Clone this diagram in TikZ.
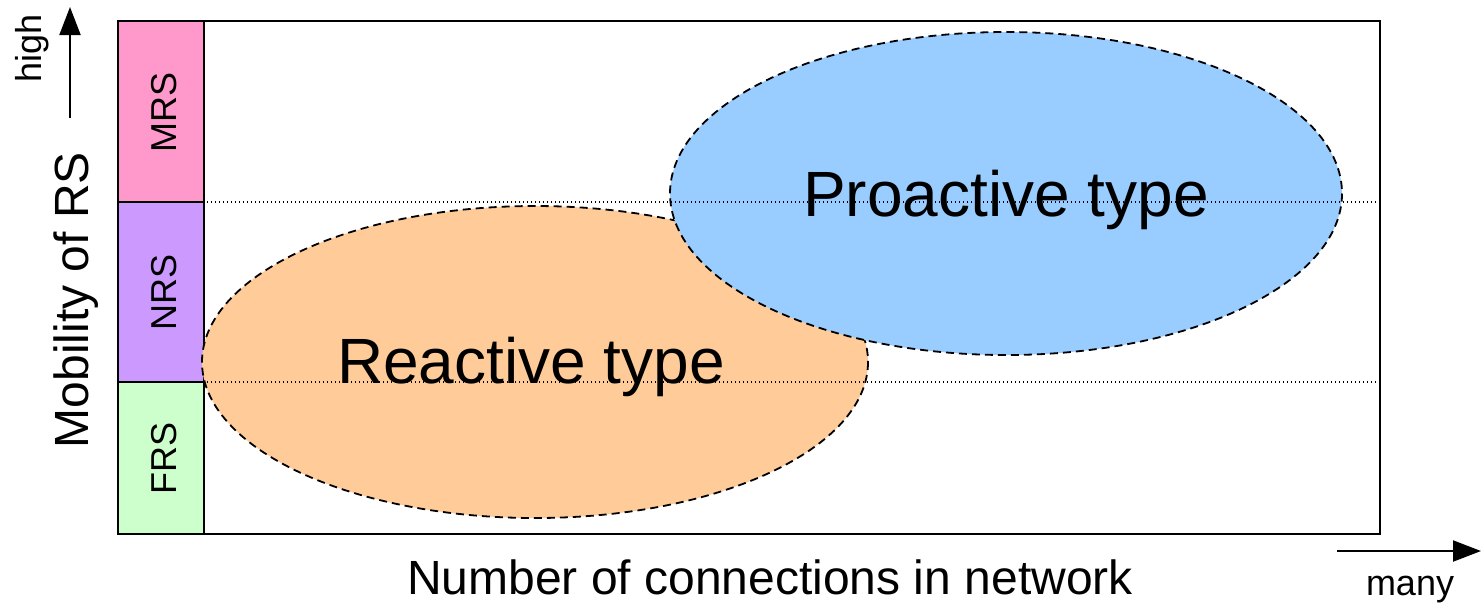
\documentclass[tikz,border=0pt]{standalone}
\usepackage{fontspec}
\setmainfont{Liberation Sans}
\usepackage{tikz}
\usetikzlibrary{arrows.meta, positioning}

\definecolor{mrspink}{HTML}{FF99CC}
\definecolor{nrspurple}{HTML}{CC99FF}
\definecolor{frsgreen}{HTML}{CCFFCC}
\definecolor{reactorange}{HTML}{FFCC99}
\definecolor{proactblue}{HTML}{99CCFF}

\tikzset{
	bar/.style={draw=black, line width=1pt},
	typeellipse/.style={draw=black, line width=0.9pt, dash pattern=on 4pt off 2.5pt},
	levelline/.style={line width=0.6pt, dash pattern=on 0.6pt off 1.4pt},
	axisarrow/.style={line width=1pt, -{Triangle[length=14pt, width=10.5pt]}},
	bigtext/.style={font=\fontsize{32}{37}\selectfont, inner sep=0pt},
	axistext/.style={font=\fontsize{24}{28}\selectfont, inner sep=0pt},
	smalltext/.style={font=\fontsize{18}{21}\selectfont, inner sep=0pt},
}

\begin{document}
\begin{tikzpicture}[x=0.5pt, y=-0.5pt]
	\useasboundingbox (0,0) rectangle (1481,602);

	% frame of the chart
	\draw[line width=1pt] (183,21) rectangle (1380,534);

	% mobility classes
	\draw[bar, fill=mrspink] (118,21) rectangle (204,202);
	\draw[bar, fill=nrspurple] (118,202) rectangle (204,382);
	\draw[bar, fill=frsgreen] (118,382) rectangle (204,534);
	\node[smalltext, rotate=90, anchor=base] (mrs) at (176,112) {MRS};
	\node[smalltext, rotate=90, anchor=base] (nrs) at (176,292) {NRS};
	\node[smalltext, rotate=90, anchor=base] (frs) at (176,458) {FRS};

	% the two types
	\draw[typeellipse, fill=reactorange] (535,362) ellipse [x radius=333, y radius=156];
	\draw[typeellipse, fill=proactblue] (1006,193.5) ellipse [x radius=336, y radius=161.5];

	\draw[levelline] (183,202) -- (1380,202);
	\draw[levelline] (183,382) -- (1380,382);

	\node[bigtext, anchor=base] (reactive) at (531,383) {Reactive type};
	\node[bigtext, anchor=base] (proactive) at (1006,216) {Proactive type};

	% axes
	\node[axistext, rotate=90, anchor=base] (ylabel) at (88,300) {Mobility of RS};
	\node[axistext, anchor=base] (xlabel) at (770,594) {Number of connections in network};
	\node[smalltext, rotate=90, anchor=base] (high) at (41,48) {high};
	\node[smalltext, anchor=base] (many) at (1410,595) {many};

	\coordinate (ytail) at (70,118);
	\coordinate (yhead) at (70,7);
	\coordinate (xtail) at (1337,551);
	\coordinate (xhead) at (1481,551);
	\draw[axisarrow] (ytail) -- (yhead);
	\draw[axisarrow] (xtail) -- (xhead);
\end{tikzpicture}
\end{document}
